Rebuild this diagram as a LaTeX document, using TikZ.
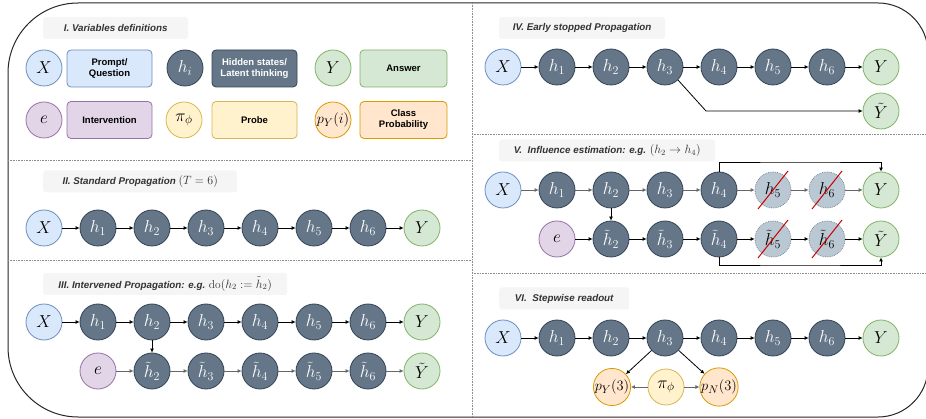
\documentclass[tikz,border=0pt]{standalone}
\usepackage{amsmath}
\usepackage{fontspec}
\setsansfont{Liberation Sans}
\usetikzlibrary{arrows.meta}

\definecolor{xfill}{HTML}{DAE8FC}
\definecolor{xline}{HTML}{6C8EBF}
\definecolor{hfill}{HTML}{647687}
\definecolor{hline}{HTML}{314354}
\definecolor{yfill}{HTML}{D5E8D4}
\definecolor{yline}{HTML}{82B366}
\definecolor{efill}{HTML}{E1D5E7}
\definecolor{eline}{HTML}{9673A6}
\definecolor{pifill}{HTML}{FFF2CC}
\definecolor{piline}{HTML}{D6B656}
\definecolor{pfill}{HTML}{FFE6CC}
\definecolor{pline}{HTML}{D79B00}
\definecolor{cutfill}{HTML}{BAC8D3}
\definecolor{cutline}{HTML}{7A8A9A}
\definecolor{titlefill}{HTML}{F5F5F5}
\definecolor{titletext}{HTML}{333333}

\newcommand{\tmath}[1]{{\fontsize{11.5}{12}\selectfont$#1$}}

\tikzset{var/.style={circle, line width=0.8pt, minimum size=36pt, inner sep=0pt, font=\fontsize{17}{20}\selectfont}}
\tikzset{xvar/.style={var, draw=xline, fill=xfill}}
\tikzset{hvar/.style={var, draw=hline, fill=hfill, text=white}}
\tikzset{yvar/.style={var, draw=yline, fill=yfill}}
\tikzset{evar/.style={var, draw=eline, fill=efill}}
\tikzset{pivar/.style={var, draw=piline, fill=pifill}}
\tikzset{pvar/.style={var, draw=pline, fill=pfill, font=\fontsize{15}{18}\selectfont}}
\tikzset{cutvar/.style={var, draw=cutline, fill=cutfill, densely dotted}}
\tikzset{legend/.style={rounded corners=4pt, line width=0.8pt, minimum width=85pt, minimum height=37pt, align=center, font=\sffamily\bfseries\fontsize{9.5}{11}\selectfont}}
\tikzset{title/.style={fill=titlefill, rounded corners=3pt, minimum height=22pt, anchor=west, text=titletext, font=\sffamily\bfseries\itshape\fontsize{9.8}{11}\selectfont}}
\tikzset{arr/.style={-{Latex[length=4pt,width=4pt]}, line width=0.8pt}}
\tikzset{garr/.style={arr, draw=black!60}}
\tikzset{divider/.style={densely dotted, draw=black!45, line width=0.6pt}}
\tikzset{slash/.style={draw=red!80!black, line width=1pt}}

\begin{document}
\begin{tikzpicture}[x=1pt, y=-1pt]
                    \useasboundingbox (0,0) rectangle (926,419);
                    \clip (0,0) rectangle (926,419);

                    % frame and dividers
                    \draw[line width=1pt, black!85] (8,210) -- (8,73) arc[start angle=180, end angle=90, radius=70pt]
                        -- (878,3) arc[start angle=90, end angle=0, radius=50pt]
                        -- (928,367) arc[start angle=0, end angle=-90, radius=50pt]
                        -- (78,417) arc[start angle=270, end angle=180, radius=70pt] -- cycle;
                    \draw[divider] (472,3) -- (472,417);
                    \draw[divider] (8,160) -- (472,160);
                    \draw[divider] (8,260) -- (472,260);
                    \draw[divider] (472,134) -- (926,134);
                    \draw[divider] (472,273) -- (926,273);

                    % I. legend
                    \node[title, minimum width=145pt] (tI) at (43,28) {I. Variables definitions};
                    \node[xvar] (lX) at (44,68) {$X$};
                    \node[legend, draw=xline, fill=xfill] (lXt) at (109.5,68.5) {Prompt/\\Question};
                    \node[hvar] (lh) at (185,68) {$h_i$};
                    \node[legend, draw=hline, fill=hfill, text=white] (lht) at (254.5,68.5) {Hidden states/\\Latent thinking};
                    \node[yvar] (lY) at (333,68) {$Y$};
                    \node[legend, draw=yline, fill=yfill, minimum width=87pt] (lYt) at (403.5,68.5) {Answer};
                    \node[evar] (le) at (44,120) {$e$};
                    \node[legend, draw=eline, fill=efill] (let) at (109.5,120) {Intervention};
                    \node[pivar] (lpi) at (184,120) {$\pi_\phi$};
                    \node[legend, draw=piline, fill=pifill] (lpit) at (254.5,120) {Probe};
                    \node[pvar] (lp) at (333,120) {$p_Y(i)$};
                    \node[legend, draw=pline, fill=pfill, minimum width=87pt] (lpt) at (403.5,120) {Class\\Probability};

                    % II. standard
                    \node[title, minimum width=194pt] (tII) at (43,181.5) {II. Standard Propagation \tmath{(T=6)}};
                    \node[xvar] (sX) at (44,228) {$X$};
                    \node[hvar] (s1) at (98,228) {$h_1$};
                    \node[hvar] (s2) at (152,228) {$h_2$};
                    \node[hvar] (s3) at (206,228) {$h_3$};
                    \node[hvar] (s4) at (260,228) {$h_4$};
                    \node[hvar] (s5) at (314,228) {$h_5$};
                    \node[hvar] (s6) at (368,228) {$h_6$};
                    \node[yvar] (sY) at (422,228) {$Y$};

                    \draw[arr] (sX) -- (s1);
                    \draw[arr] (s1) -- (s2);
                    \draw[arr] (s2) -- (s3);
                    \draw[arr] (s3) -- (s4);
                    \draw[arr] (s4) -- (s5);
                    \draw[arr] (s5) -- (s6);
                    \draw[arr] (s6) -- (sY);

                    % III. intervened
                    \node[title, minimum width=244pt] (tIII) at (43,284) {III. Intervened Propagation: e.g. \tmath{\mathrm{do}(h_2 := \tilde{h}_2)}};
                    \node[xvar] (iX) at (44,322) {$X$};
                    \node[hvar] (i1) at (98,322) {$h_1$};
                    \node[hvar] (i2) at (152,322) {$h_2$};
                    \node[hvar] (i3) at (206,322) {$h_3$};
                    \node[hvar] (i4) at (260,322) {$h_4$};
                    \node[hvar] (i5) at (314,322) {$h_5$};
                    \node[hvar] (i6) at (368,322) {$h_6$};
                    \node[yvar] (iY) at (422,322) {$Y$};
                    \node[evar] (ie) at (98,371) {$e$};
                    \node[hvar] (it2) at (152,371) {$\tilde{h}_2$};
                    \node[hvar] (it3) at (206,371) {$\tilde{h}_3$};
                    \node[hvar] (it4) at (260,371) {$\tilde{h}_4$};
                    \node[hvar] (it5) at (314,371) {$\tilde{h}_5$};
                    \node[hvar] (it6) at (368,371) {$\tilde{h}_6$};
                    \node[yvar] (itY) at (422,371) {$\tilde{Y}$};

                    \draw[arr] (iX) -- (i1);
                    \draw[arr] (i1) -- (i2);
                    \draw[arr] (i2) -- (i3);
                    \draw[arr] (i3) -- (i4);
                    \draw[arr] (i4) -- (i5);
                    \draw[arr] (i5) -- (i6);
                    \draw[arr] (i6) -- (iY);
                    \draw[arr] (i2) -- (it2);
                    \draw[garr] (ie) -- (it2);
                    \draw[garr] (it2) -- (it3);
                    \draw[garr] (it3) -- (it4);
                    \draw[garr] (it4) -- (it5);
                    \draw[garr] (it5) -- (it6);
                    \draw[garr] (it6) -- (itY);

                    % IV. early stopped
                    \node[title, minimum width=166pt] (tIV) at (499,28) {IV. Early stopped Propagation};
                    \node[xvar] (eX) at (503,67) {$X$};
                    \node[hvar] (e1) at (557,67) {$h_1$};
                    \node[hvar] (e2) at (611,67) {$h_2$};
                    \node[hvar] (e3) at (665,67) {$h_3$};
                    \node[hvar] (e4) at (719,67) {$h_4$};
                    \node[hvar] (e5) at (773,67) {$h_5$};
                    \node[hvar] (e6) at (827,67) {$h_6$};
                    \node[yvar] (eY) at (881,67) {$Y$};
                    \node[yvar] (etY) at (881,111) {$\tilde{Y}$};
                    \coordinate (ebend) at (706,111);

                    \draw[arr] (eX) -- (e1);
                    \draw[arr] (e1) -- (e2);
                    \draw[arr] (e2) -- (e3);
                    \draw[arr] (e3) -- (e4);
                    \draw[arr] (e4) -- (e5);
                    \draw[arr] (e5) -- (e6);
                    \draw[arr] (e6) -- (eY);
                    \draw[arr] (e3.-45) -- (ebend) -- (etY);

                    % V. influence
                    \node[title, minimum width=216pt] (tV) at (499,150.5) {V.\ \ Influence estimation: e.g. \tmath{(h_2 \rightarrow h_4)}};
                    \node[xvar] (fX) at (503,190) {$X$};
                    \node[hvar] (f1) at (557,190) {$h_1$};
                    \node[hvar] (f2) at (611,190) {$h_2$};
                    \node[hvar] (f3) at (665,190) {$h_3$};
                    \node[hvar] (f4) at (719,190) {$h_4$};
                    \node[cutvar] (f5) at (773,190) {$h_5$};
                    \node[cutvar] (f6) at (827,190) {$h_6$};
                    \node[yvar] (fY) at (881,190) {$Y$};
                    \node[evar] (fe) at (557,239) {$e$};
                    \node[hvar] (ft2) at (611,239) {$\tilde{h}_2$};
                    \node[hvar] (ft3) at (665,239) {$\tilde{h}_3$};
                    \node[hvar] (ft4) at (719,239) {$\tilde{h}_4$};
                    \node[cutvar] (ft5) at (773,239) {$\tilde{h}_5$};
                    \node[cutvar] (ft6) at (827,239) {$\tilde{h}_6$};
                    \node[yvar] (ftY) at (881,239) {$\tilde{Y}$};

                    \draw[slash] (758,209) -- (788,171);
                    \draw[slash] (812,209) -- (842,171);
                    \draw[slash] (758,258) -- (788,220);
                    \draw[slash] (812,258) -- (842,220);

                    \draw[garr] (fX) -- (f1);
                    \draw[garr] (f1) -- (f2);
                    \draw[garr] (f2) -- (f3);
                    \draw[garr] (f3) -- (f4);
                    \draw[garr] (f4) -- (f5);
                    \draw[garr] (f5) -- (f6);
                    \draw[garr] (f6) -- (fY);
                    \draw[arr] (f2) -- (ft2);
                    \draw[arr] (fe) -- (ft2);
                    \draw[arr] (ft2) -- (ft3);
                    \draw[arr] (ft3) -- (ft4);
                    \draw[arr] (ft4) -- (ft5);
                    \draw[arr] (ft5) -- (ft6);
                    \draw[arr] (ft6) -- (ftY);
                    \draw[arr] (f4.north) |- (800,162) -| (fY.north);
                    \draw[arr] (ft4.south) |- (800,265) -| (ftY.south);

                    % VI. stepwise readout
                    \node[title, minimum width=130pt] (tVI) at (499,298.5) {VI.\ \ Stepwise readout};
                    \node[xvar] (rX) at (503,338) {$X$};
                    \node[hvar] (r1) at (557,338) {$h_1$};
                    \node[hvar] (r2) at (611,338) {$h_2$};
                    \node[hvar] (r3) at (665,338) {$h_3$};
                    \node[hvar] (r4) at (719,338) {$h_4$};
                    \node[hvar] (r5) at (773,338) {$h_5$};
                    \node[hvar] (r6) at (827,338) {$h_6$};
                    \node[yvar] (rY) at (881,338) {$Y$};
                    \node[pvar] (rpY) at (612,387) {$p_Y(3)$};
                    \node[pivar] (rpi) at (666,387) {$\pi_\phi$};
                    \node[pvar] (rpN) at (719,387) {$p_N(3)$};

                    \draw[arr] (rX) -- (r1);
                    \draw[arr] (r1) -- (r2);
                    \draw[arr] (r2) -- (r3);
                    \draw[arr] (r3) -- (r4);
                    \draw[arr] (r4) -- (r5);
                    \draw[arr] (r5) -- (r6);
                    \draw[arr] (r6) -- (rY);
                    \draw[arr] (r3) -- (rpY);
                    \draw[arr] (r3) -- (rpN);
                    \draw[garr] (rpi) -- (rpY);
                    \draw[garr] (rpi) -- (rpN);

                 \end{tikzpicture}
\end{document}
